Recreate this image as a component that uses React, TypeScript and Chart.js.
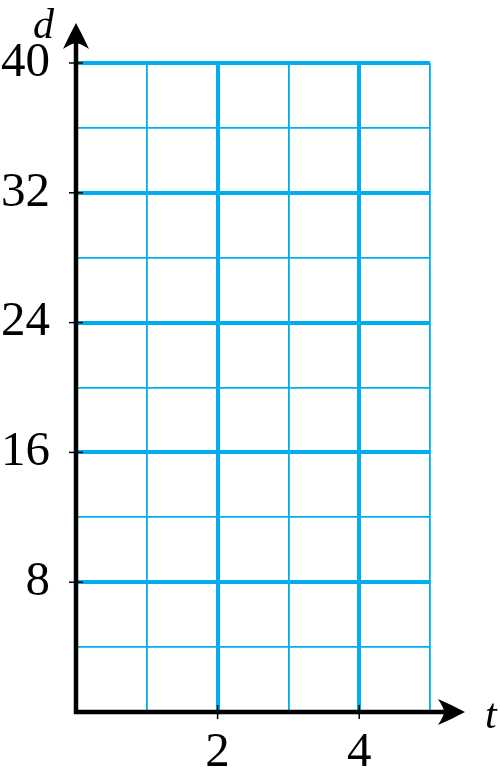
import React, { useEffect, useRef } from "react";
import { Chart, registerables } from "chart.js";

Chart.register(...registerables);

const xMin = 0;
const xMax = 5;
const xStep = 1;
const xLabeled = [2, 4];
const xThick = [2, 4];

const yMin = 0;
const yMax = 40;
const yStep = 4;
const yLabeled = [8, 16, 24, 32, 40];
const yThick = [8, 16, 24, 32, 40];

const xTitle = "t";
const yTitle = "d";

const GRID = "#00AEEF";
const FONT = "'Liberation Serif', 'Times New Roman', serif";

const axesPlugin = {
  id: "axesArrows",
  afterDatasetsDraw(chart: any) {
    const { ctx, scales } = chart;
    const xs = scales.x;
    const ys = scales.y;
    const x0 = xs.getPixelForValue(xMin);
    const y0 = ys.getPixelForValue(yMin);
    const yTop = ys.getPixelForValue(yMax);
    const xRight = xs.getPixelForValue(xMax);
    ctx.save();
    ctx.strokeStyle = "#000";
    ctx.fillStyle = "#000";
    // tick marks
    ctx.lineWidth = 1.5;
    yLabeled.forEach((v) => {
      const p = ys.getPixelForValue(v);
      ctx.beginPath();
      ctx.moveTo(x0 - 7, p);
      ctx.lineTo(x0 + 7, p);
      ctx.stroke();
    });
    xLabeled.forEach((v) => {
      const p = xs.getPixelForValue(v);
      ctx.beginPath();
      ctx.moveTo(p, y0 - 7);
      ctx.lineTo(p, y0 + 7);
      ctx.stroke();
    });
    // axes
    ctx.lineWidth = 4.5;
    ctx.lineCap = "butt";
    const yTip = yTop - 40;
    const xTip = xRight + 35;
    ctx.beginPath();
    ctx.moveTo(x0, y0 + 2);
    ctx.lineTo(x0, yTip + 12);
    ctx.stroke();
    ctx.beginPath();
    ctx.moveTo(x0 - 2, y0);
    ctx.lineTo(xTip - 12, y0);
    ctx.stroke();
    // y arrow head
    ctx.beginPath();
    ctx.moveTo(x0, yTip);
    ctx.quadraticCurveTo(x0 + 7, yTip + 13, x0 + 13, yTip + 26);
    ctx.quadraticCurveTo(x0 + 4, yTip + 20, x0, yTip + 20);
    ctx.quadraticCurveTo(x0 - 4, yTip + 20, x0 - 13, yTip + 26);
    ctx.quadraticCurveTo(x0 - 7, yTip + 13, x0, yTip);
    ctx.closePath();
    ctx.fill();
    // x arrow head
    ctx.beginPath();
    ctx.moveTo(xTip, y0);
    ctx.quadraticCurveTo(xTip - 13, y0 + 7, xTip - 27, y0 + 13);
    ctx.quadraticCurveTo(xTip - 21, y0 + 4, xTip - 21, y0);
    ctx.quadraticCurveTo(xTip - 21, y0 - 4, xTip - 27, y0 - 13);
    ctx.quadraticCurveTo(xTip - 13, y0 - 7, xTip, y0);
    ctx.closePath();
    ctx.fill();
    // titles
    ctx.font = "italic 42px " + FONT;
    ctx.textAlign = "left";
    ctx.textBaseline = "alphabetic";
    ctx.fillText(yTitle, x0 - 43, yTip + 15);
    ctx.fillText(xTitle, xTip + 20, y0 + 16);
    ctx.restore();
  },
};

export default function App() {
  const ref = useRef<HTMLCanvasElement>(null);
  useEffect(() => {
    if (!ref.current) return;
    const chart = new Chart(ref.current, {
      type: "scatter",
      data: { datasets: [{ data: [], pointRadius: 0 }] },
      options: {
        animation: false,
        responsive: false,
        maintainAspectRatio: false,
        layout: { padding: { top: 63, right: 70, left: 0, bottom: 0 } },
        plugins: { legend: { display: false }, tooltip: { enabled: false } },
        scales: {
          x: {
            type: "linear",
            min: xMin,
            max: xMax,
            afterFit: (s: any) => {
              s.height = 59;
            },
            border: { display: false },
            grid: {
              drawTicks: false,
              color: GRID,
              lineWidth: (c: any) =>
                c.tick && c.tick.value === xMin ? 0 : xThick.includes(c.tick?.value) ? 4 : 1.8,
            },
            ticks: {
              stepSize: xStep,
              autoSkip: false,
              maxRotation: 0,
              padding: 12,
              color: "#000",
              font: { family: FONT, size: 49 },
              callback: (v: any) => (xLabeled.includes(Number(v)) ? String(v) : ""),
            },
          },
          y: {
            type: "linear",
            min: yMin,
            max: yMax,
            afterFit: (s: any) => {
              s.width = 76;
            },
            border: { display: false },
            grid: {
              drawTicks: false,
              color: GRID,
              lineWidth: (c: any) =>
                c.tick && c.tick.value === yMin ? 0 : yThick.includes(c.tick?.value) ? 4 : 1.8,
            },
            ticks: {
              stepSize: yStep,
              autoSkip: false,
              padding: 26,
              color: "#000",
              font: { family: FONT, size: 49 },
              callback: (v: any) => (yLabeled.includes(Number(v)) ? String(v) : ""),
            },
          },
        },
      },
      plugins: [axesPlugin],
    });
    return () => chart.destroy();
  }, []);
  return (
    <div style={{ position: "absolute", left: 0, top: 0, width: 500, height: 771, background: "#fff" }}>
      <canvas ref={ref} width={500} height={771} style={{ display: "block" }} />
    </div>
  );
}
